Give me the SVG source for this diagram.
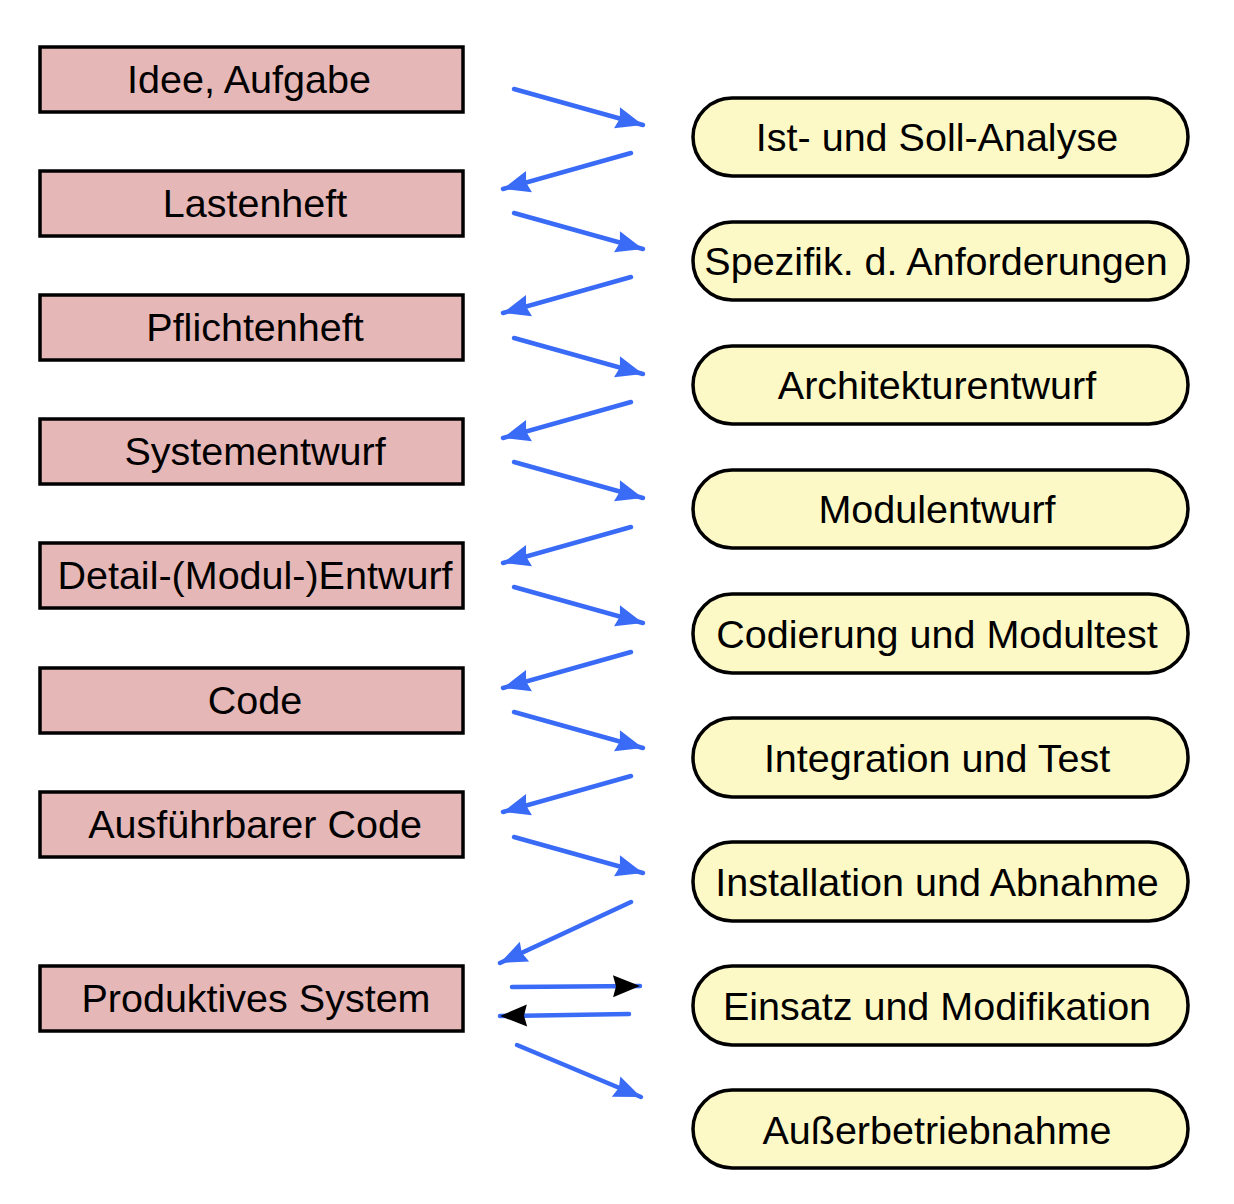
<svg xmlns="http://www.w3.org/2000/svg" width="1234" height="1204" viewBox="0 0 1234 1204">
<style>
.box{fill:#E6B7B7;stroke:#000;stroke-width:3.5}
.pill{fill:#FDF9C6;stroke:#000;stroke-width:3.5}
text{font-family:"Liberation Sans",Arial,sans-serif;font-size:39.5px;fill:#000;text-anchor:middle}
.c{stroke:#3A6BF7;stroke-width:4.5;fill:none;stroke-linecap:round}
</style>
<defs>
<marker id="ab" markerUnits="userSpaceOnUse" markerWidth="28" markerHeight="24" refX="27" refY="12" orient="auto" viewBox="0 0 28 24" overflow="visible">
<path d="M0,1 L27,12 L0,23 L3,12 Z" fill="#3A6BF7"/>
</marker>
<marker id="ak" markerUnits="userSpaceOnUse" markerWidth="28" markerHeight="24" refX="27" refY="12" orient="auto" viewBox="0 0 28 24" overflow="visible">
<path d="M0,1 L27,12 L0,23 L3,12 Z" fill="#000"/>
</marker>
</defs>
<g id="n1"><rect class="box" x="40" y="47" width="423" height="65"/><text x="249" y="93">Idee, Aufgabe</text></g>
<g id="n2"><rect class="box" x="40" y="171" width="423" height="65"/><text x="255" y="217">Lastenheft</text></g>
<g id="n3"><rect class="box" x="40" y="295" width="423" height="65"/><text x="255" y="341">Pflichtenheft</text></g>
<g id="n4"><rect class="box" x="40" y="419" width="423" height="65"/><text x="255" y="465">Systementwurf</text></g>
<g id="n5"><rect class="box" x="40" y="543" width="423" height="65"/><text x="255" y="589">Detail-(Modul-)Entwurf</text></g>
<g id="n6"><rect class="box" x="40" y="668" width="423" height="65"/><text x="255" y="714">Code</text></g>
<g id="n7"><rect class="box" x="40" y="792" width="423" height="65"/><text x="255" y="838">Ausführbarer Code</text></g>
<g id="n8"><rect class="box" x="40" y="966" width="423" height="65"/><text x="256" y="1012">Produktives System</text></g>
<g id="p1"><rect class="pill" x="693" y="98" width="495" height="78" rx="39"/><text x="937" y="151">Ist- und Soll-Analyse</text></g>
<g id="p2"><rect class="pill" x="693" y="222" width="495" height="78" rx="39"/><text x="936" y="275">Spezifik. d. Anforderungen</text></g>
<g id="p3"><rect class="pill" x="693" y="346" width="495" height="78" rx="39"/><text x="937" y="399">Architekturentwurf</text></g>
<g id="p4"><rect class="pill" x="693" y="470" width="495" height="78" rx="39"/><text x="937" y="523">Modulentwurf</text></g>
<g id="p5"><rect class="pill" x="693" y="594" width="495" height="79" rx="39"/><text x="937" y="648">Codierung und Modultest</text></g>
<g id="p6"><rect class="pill" x="693" y="718" width="495" height="79" rx="39"/><text x="937" y="772">Integration und Test</text></g>
<g id="p7"><rect class="pill" x="693" y="842" width="495" height="79" rx="39"/><text x="937" y="896">Installation und Abnahme</text></g>
<g id="p8"><rect class="pill" x="693" y="966" width="495" height="79" rx="39"/><text x="937" y="1020">Einsatz und Modifikation</text></g>
<g id="p9"><rect class="pill" x="693" y="1090" width="495" height="78" rx="39"/><text x="937" y="1144">Außerbetriebnahme</text></g>
<g id="connectors">
<line class="c" x1="514" y1="89" x2="643" y2="125" marker-end="url(#ab)"/>
<line class="c" x1="631" y1="153" x2="503" y2="189" marker-end="url(#ab)"/>
<line class="c" x1="514" y1="213" x2="643" y2="249" marker-end="url(#ab)"/>
<line class="c" x1="631" y1="277" x2="503" y2="313" marker-end="url(#ab)"/>
<line class="c" x1="514" y1="338" x2="643" y2="374" marker-end="url(#ab)"/>
<line class="c" x1="631" y1="402" x2="503" y2="438" marker-end="url(#ab)"/>
<line class="c" x1="514" y1="462" x2="643" y2="498" marker-end="url(#ab)"/>
<line class="c" x1="631" y1="527" x2="503" y2="563" marker-end="url(#ab)"/>
<line class="c" x1="514" y1="587" x2="643" y2="623" marker-end="url(#ab)"/>
<line class="c" x1="631" y1="652" x2="503" y2="688" marker-end="url(#ab)"/>
<line class="c" x1="514" y1="712" x2="643" y2="748" marker-end="url(#ab)"/>
<line class="c" x1="631" y1="776" x2="503" y2="812" marker-end="url(#ab)"/>
<line class="c" x1="514" y1="837" x2="643" y2="873" marker-end="url(#ab)"/>
<line class="c" x1="631" y1="902" x2="500" y2="963" marker-end="url(#ab)"/>
<line class="c" x1="512" y1="987" x2="640" y2="986" marker-end="url(#ak)"/>
<line class="c" x1="629" y1="1014" x2="500" y2="1016" marker-end="url(#ak)"/>
<line class="c" x1="517" y1="1045" x2="641" y2="1097" marker-end="url(#ab)"/>
</g>
</svg>
